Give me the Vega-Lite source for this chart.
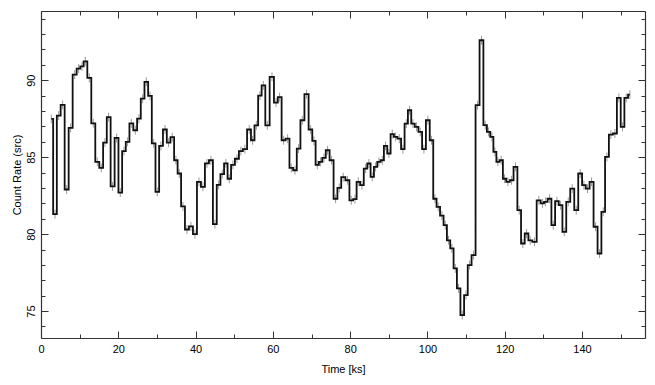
{
 "$schema": "https://vega.github.io/schema/vega-lite/v6.json",
 "width": 604, "height": 327,
 "autosize": {"type": "none"},
 "padding": {"left": 41, "top": 11, "right": 10, "bottom": 47},
 "background": "white",
 "config": {
  "view": {"stroke": null},
  "font": "Liberation Sans",
  "axis": {"labelFont": "Liberation Sans", "titleFont": "Liberation Sans", "labelFontSize": 11, "titleFontSize": 11, "titleFontWeight": "normal", "labelColor": "#000", "titleColor": "#000", "domainColor": "#333", "domainWidth": 1.2, "tickColor": "#333", "tickWidth": 1, "grid": false}
 },
 "data": {"values": [
  {"t": 2.67, "r": 87.49, "e": 0.29}, {"t": 3.62, "r": 81.3, "e": 0.29}, {"t": 4.57, "r": 87.7, "e": 0.29}, {"t": 5.6, "r": 88.4, "e": 0.29},
  {"t": 6.64, "r": 82.9, "e": 0.29}, {"t": 7.67, "r": 86.9, "e": 0.29}, {"t": 8.71, "r": 90.37, "e": 0.29}, {"t": 9.74, "r": 90.76, "e": 0.29},
  {"t": 10.6, "r": 90.9, "e": 0.29}, {"t": 11.47, "r": 91.23, "e": 0.29}, {"t": 12.5, "r": 90.15, "e": 0.29}, {"t": 13.53, "r": 87.2, "e": 0.29},
  {"t": 14.57, "r": 84.7, "e": 0.29}, {"t": 15.6, "r": 84.3, "e": 0.29}, {"t": 16.55, "r": 85.95, "e": 0.29}, {"t": 17.5, "r": 87.6, "e": 0.29},
  {"t": 18.53, "r": 83.1, "e": 0.29}, {"t": 19.57, "r": 86.25, "e": 0.29}, {"t": 20.52, "r": 82.7, "e": 0.29}, {"t": 21.47, "r": 85.4, "e": 0.29},
  {"t": 22.41, "r": 86.0, "e": 0.29}, {"t": 23.36, "r": 87.2, "e": 0.29}, {"t": 24.4, "r": 86.75, "e": 0.29}, {"t": 25.34, "r": 87.5, "e": 0.29},
  {"t": 26.3, "r": 88.8, "e": 0.29}, {"t": 27.25, "r": 89.9, "e": 0.29}, {"t": 28.2, "r": 88.98, "e": 0.29}, {"t": 29.15, "r": 85.9, "e": 0.29},
  {"t": 30.1, "r": 82.75, "e": 0.29}, {"t": 31.04, "r": 85.73, "e": 0.29}, {"t": 32.08, "r": 86.8, "e": 0.29}, {"t": 33.03, "r": 85.95, "e": 0.29},
  {"t": 33.97, "r": 86.3, "e": 0.29}, {"t": 34.92, "r": 84.8, "e": 0.29}, {"t": 35.78, "r": 83.94, "e": 0.29}, {"t": 36.73, "r": 81.8, "e": 0.29},
  {"t": 37.77, "r": 80.3, "e": 0.29}, {"t": 38.8, "r": 80.5, "e": 0.29}, {"t": 39.84, "r": 80.0, "e": 0.29}, {"t": 40.87, "r": 83.4, "e": 0.29},
  {"t": 41.9, "r": 83.07, "e": 0.29}, {"t": 42.94, "r": 84.6, "e": 0.29}, {"t": 43.97, "r": 84.8, "e": 0.29}, {"t": 45.0, "r": 80.65, "e": 0.29},
  {"t": 45.96, "r": 83.2, "e": 0.29}, {"t": 46.9, "r": 83.9, "e": 0.29}, {"t": 47.85, "r": 84.6, "e": 0.29}, {"t": 48.71, "r": 83.6, "e": 0.29},
  {"t": 49.66, "r": 84.5, "e": 0.29}, {"t": 50.7, "r": 84.9, "e": 0.29}, {"t": 51.73, "r": 85.4, "e": 0.29}, {"t": 52.75, "r": 85.52, "e": 0.29},
  {"t": 53.9, "r": 86.8, "e": 0.29}, {"t": 54.77, "r": 86.1, "e": 0.29}, {"t": 55.72, "r": 87.07, "e": 0.29}, {"t": 56.66, "r": 89.0, "e": 0.29},
  {"t": 57.53, "r": 89.67, "e": 0.29}, {"t": 58.56, "r": 87.07, "e": 0.29}, {"t": 59.77, "r": 90.22, "e": 0.29}, {"t": 60.8, "r": 88.55, "e": 0.29},
  {"t": 61.75, "r": 88.9, "e": 0.29}, {"t": 62.78, "r": 86.1, "e": 0.29}, {"t": 63.82, "r": 86.2, "e": 0.29}, {"t": 64.77, "r": 84.3, "e": 0.29},
  {"t": 65.72, "r": 84.15, "e": 0.29}, {"t": 66.66, "r": 85.56, "e": 0.29}, {"t": 67.61, "r": 87.4, "e": 0.29}, {"t": 68.73, "r": 89.1, "e": 0.29},
  {"t": 69.77, "r": 86.8, "e": 0.29}, {"t": 70.63, "r": 86.06, "e": 0.29}, {"t": 71.49, "r": 84.5, "e": 0.29}, {"t": 72.35, "r": 84.7, "e": 0.29},
  {"t": 73.22, "r": 84.95, "e": 0.29}, {"t": 74.16, "r": 85.45, "e": 0.29}, {"t": 75.2, "r": 84.8, "e": 0.29}, {"t": 76.23, "r": 82.3, "e": 0.29},
  {"t": 77.18, "r": 83.0, "e": 0.29}, {"t": 78.2, "r": 83.7, "e": 0.29}, {"t": 79.34, "r": 83.5, "e": 0.29}, {"t": 80.29, "r": 82.2, "e": 0.29},
  {"t": 81.24, "r": 82.27, "e": 0.29}, {"t": 82.1, "r": 83.4, "e": 0.29}, {"t": 83.05, "r": 83.18, "e": 0.29}, {"t": 84.0, "r": 84.26, "e": 0.29},
  {"t": 84.86, "r": 84.59, "e": 0.29}, {"t": 85.72, "r": 83.72, "e": 0.29}, {"t": 86.59, "r": 84.37, "e": 0.29}, {"t": 87.45, "r": 84.7, "e": 0.29},
  {"t": 88.31, "r": 84.8, "e": 0.29}, {"t": 89.17, "r": 85.73, "e": 0.29}, {"t": 90.03, "r": 85.24, "e": 0.29}, {"t": 90.9, "r": 86.5, "e": 0.29},
  {"t": 91.76, "r": 86.32, "e": 0.29}, {"t": 92.71, "r": 86.2, "e": 0.29}, {"t": 93.65, "r": 85.52, "e": 0.29}, {"t": 94.52, "r": 87.18, "e": 0.29},
  {"t": 95.38, "r": 88.05, "e": 0.29}, {"t": 96.24, "r": 87.18, "e": 0.29}, {"t": 97.19, "r": 86.97, "e": 0.29}, {"t": 98.14, "r": 86.64, "e": 0.29},
  {"t": 99.09, "r": 85.52, "e": 0.29}, {"t": 100.12, "r": 87.4, "e": 0.29}, {"t": 101.07, "r": 86.1, "e": 0.29}, {"t": 101.93, "r": 82.3, "e": 0.29},
  {"t": 102.79, "r": 81.77, "e": 0.29}, {"t": 103.74, "r": 81.2, "e": 0.29}, {"t": 104.61, "r": 80.58, "e": 0.29}, {"t": 105.47, "r": 79.6, "e": 0.29},
  {"t": 106.33, "r": 79.07, "e": 0.29}, {"t": 107.2, "r": 77.77, "e": 0.29}, {"t": 108.06, "r": 76.47, "e": 0.29}, {"t": 109.01, "r": 74.74, "e": 0.29},
  {"t": 109.96, "r": 76.04, "e": 0.29}, {"t": 110.9, "r": 77.99, "e": 0.29}, {"t": 111.94, "r": 78.64, "e": 0.29}, {"t": 112.97, "r": 88.38, "e": 0.29},
  {"t": 114.0, "r": 92.6, "e": 0.29}, {"t": 114.96, "r": 87.08, "e": 0.29}, {"t": 115.82, "r": 86.64, "e": 0.29}, {"t": 116.68, "r": 86.32, "e": 0.29},
  {"t": 117.46, "r": 85.35, "e": 0.29}, {"t": 118.23, "r": 84.7, "e": 0.29}, {"t": 119.09, "r": 84.8, "e": 0.29}, {"t": 119.96, "r": 83.6, "e": 0.29},
  {"t": 120.82, "r": 83.4, "e": 0.29}, {"t": 121.77, "r": 83.5, "e": 0.29}, {"t": 122.8, "r": 84.37, "e": 0.29}, {"t": 123.75, "r": 81.56, "e": 0.29},
  {"t": 124.7, "r": 79.39, "e": 0.29}, {"t": 125.65, "r": 80.04, "e": 0.29}, {"t": 126.59, "r": 79.6, "e": 0.29}, {"t": 127.71, "r": 79.5, "e": 0.29},
  {"t": 128.83, "r": 82.2, "e": 0.29}, {"t": 129.75, "r": 82.0, "e": 0.29}, {"t": 130.58, "r": 82.1, "e": 0.29}, {"t": 131.61, "r": 82.3, "e": 0.29},
  {"t": 132.56, "r": 80.58, "e": 0.29}, {"t": 133.51, "r": 82.14, "e": 0.29}, {"t": 134.46, "r": 81.88, "e": 0.29}, {"t": 135.4, "r": 80.15, "e": 0.29},
  {"t": 136.44, "r": 82.1, "e": 0.29}, {"t": 137.47, "r": 82.96, "e": 0.29}, {"t": 138.51, "r": 81.56, "e": 0.29}, {"t": 139.54, "r": 83.94, "e": 0.29},
  {"t": 140.49, "r": 83.18, "e": 0.29}, {"t": 141.44, "r": 82.96, "e": 0.29}, {"t": 142.47, "r": 83.4, "e": 0.29}, {"t": 143.51, "r": 80.48, "e": 0.29},
  {"t": 144.54, "r": 78.74, "e": 0.29}, {"t": 145.49, "r": 81.45, "e": 0.29}, {"t": 146.44, "r": 85.02, "e": 0.29}, {"t": 147.47, "r": 86.47, "e": 0.29},
  {"t": 148.51, "r": 86.54, "e": 0.29}, {"t": 149.54, "r": 88.85, "e": 0.29}, {"t": 150.49, "r": 86.97, "e": 0.29}, {"t": 151.44, "r": 88.85, "e": 0.29},
  {"t": 152.39, "r": 89.07, "e": 0.29}
 ]},
 "resolve": {"axis": {"x": "independent", "y": "independent"}},
 "layer": [
  {
   "mark": {"type": "point", "opacity": 0},
   "encoding": {
    "x": {"field": "t", "type": "quantitative", "scale": {"domain": [0, 156.3], "nice": false, "zero": false},
          "axis": {"orient": "bottom", "values": [10, 30, 50, 70, 90, 110, 130, 150], "labels": false, "domain": false, "tickSize": -4, "title": null}},
    "y": {"field": "r", "type": "quantitative", "scale": {"domain": [73.25, 94.5], "nice": false, "zero": false},
          "axis": {"orient": "left", "values": [74, 76, 77, 78, 79, 81, 82, 83, 84, 86, 87, 88, 89, 91, 92, 93, 94], "labels": false, "domain": false, "tickSize": -4, "title": null}}
   }
  },
  {
   "mark": {"type": "point", "opacity": 0},
   "encoding": {
    "x": {"field": "t", "type": "quantitative", "scale": {"domain": [0, 156.3], "nice": false, "zero": false},
          "axis": {"orient": "top", "values": [10, 30, 50, 70, 90, 110, 130, 150], "labels": false, "domain": false, "tickSize": -4, "title": null}},
    "y": {"field": "r", "type": "quantitative", "scale": {"domain": [73.25, 94.5], "nice": false, "zero": false},
          "axis": {"orient": "right", "values": [74, 76, 77, 78, 79, 81, 82, 83, 84, 86, 87, 88, 89, 91, 92, 93, 94], "labels": false, "domain": false, "tickSize": -4, "title": null}}
   }
  },
  {
   "mark": {"type": "point", "opacity": 0},
   "encoding": {
    "x": {"field": "t", "type": "quantitative", "scale": {"domain": [0, 156.3], "nice": false, "zero": false},
          "axis": {"orient": "top", "values": [0, 20, 40, 60, 80, 100, 120, 140], "labels": false, "domain": true, "tickSize": -7, "title": null}},
    "y": {"field": "r", "type": "quantitative", "scale": {"domain": [73.25, 94.5], "nice": false, "zero": false},
          "axis": {"orient": "right", "values": [75, 80, 85, 90], "labels": false, "domain": true, "tickSize": -7, "title": null}}
   }
  },
  {
   "mark": {"type": "errorbar", "color": "#9a9a9a", "thickness": 1},
   "encoding": {
    "x": {"field": "t", "type": "quantitative", "scale": {"domain": [0, 156.3], "nice": false, "zero": false}, "axis": null},
    "y": {"field": "r", "type": "quantitative", "scale": {"domain": [73.25, 94.5], "nice": false, "zero": false}, "axis": null},
    "yError": {"field": "e"}
   }
  },
  {
   "mark": {"type": "line", "interpolate": "step", "color": "#111", "strokeWidth": 1.8},
   "encoding": {
    "x": {"field": "t", "type": "quantitative", "scale": {"domain": [0, 156.3], "nice": false, "zero": false},
          "axis": {"orient": "bottom", "values": [0, 20, 40, 60, 80, 100, 120, 140], "domain": true, "tickSize": -7, "labelPadding": 12, "labelFlush": false, "title": "Time [ks]", "titlePadding": 9}},
    "y": {"field": "r", "type": "quantitative", "scale": {"domain": [73.25, 94.5], "nice": false, "zero": false},
          "axis": {"orient": "left", "values": [75, 80, 85, 90], "domain": true, "tickSize": -7, "labelPadding": 12, "labelAngle": -90, "labelAlign": "center", "labelBaseline": "bottom", "labelFlush": false, "title": "Count Rate (src)", "titlePadding": 3}}
   }
  }
 ]
}
